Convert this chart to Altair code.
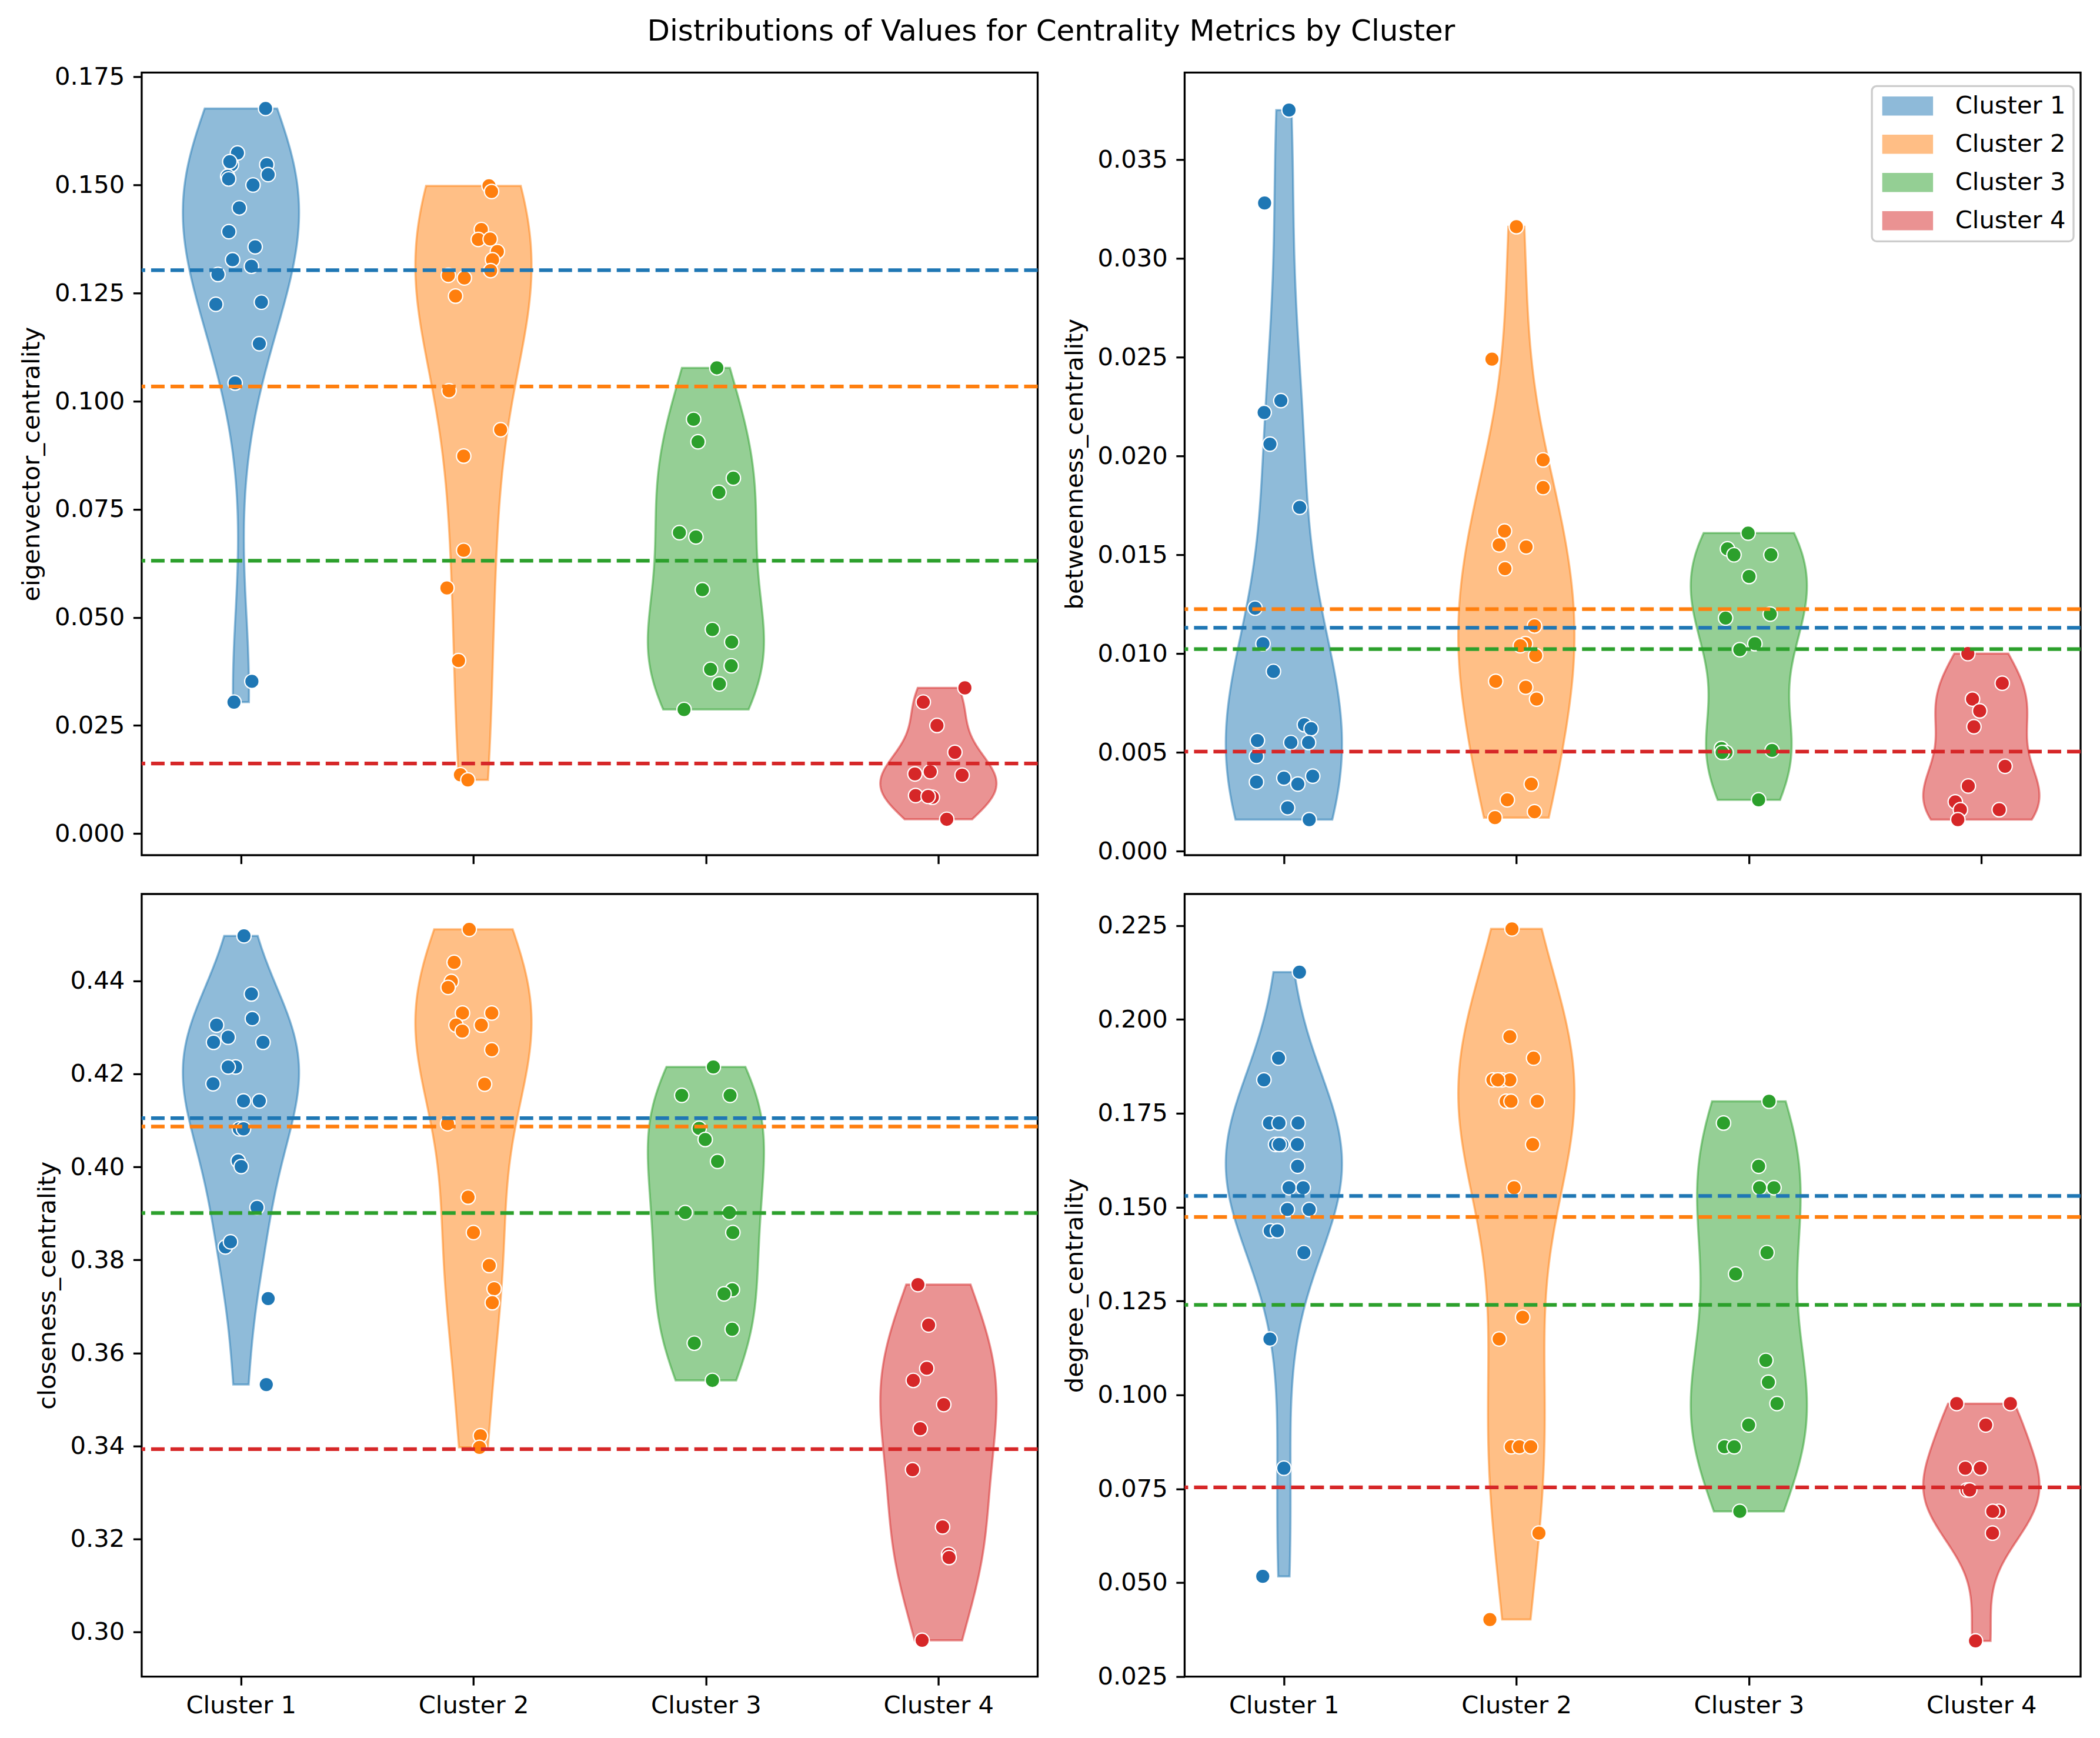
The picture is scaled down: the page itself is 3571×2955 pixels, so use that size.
import altair as alt
import pandas as pd
import numpy as np

CLUSTERS = ["Cluster 1", "Cluster 2", "Cluster 3", "Cluster 4"]
COLORS = ["#1f77b4", "#ff7f0e", "#2ca02c", "#d62728"]
METRICS = ["eigenvector_centrality", "betweenness_centrality",
           "closeness_centrality", "degree_centrality"]
TITLE = "Distributions of Values for Centrality Metrics by Cluster"

# ---------------- eigenvector_centrality ----------------
eig_c1 = [0.1677, 0.1574, 0.1547, 0.1554, 0.1547, 0.1524, 0.1520, 0.1514, 0.1500, 0.1447, 0.1392,
          0.1357, 0.1327, 0.1312, 0.1293, 0.1224, 0.1229, 0.1133, 0.1042, 0.0352, 0.0304]
eig_c1_jit = [0.106, -0.015, -0.041, -0.048, 0.111, 0.117, -0.057, -0.053, 0.052, -0.007, -0.052,
              0.061, -0.036, 0.045, -0.099, -0.108, 0.088, 0.079, -0.025, 0.047, -0.030]
eig_c2 = [0.1498, 0.1485, 0.1397, 0.1374, 0.1375, 0.1346, 0.1327, 0.1302, 0.1291, 0.1285,
          0.1243, 0.1024, 0.0934, 0.0873, 0.0655, 0.0568, 0.0400, 0.0136, 0.0124]
eig_c2_jit = [0.067, 0.078, 0.034, 0.021, 0.072, 0.103, 0.082, 0.074, -0.108, -0.039,
              -0.077, -0.105, 0.117, -0.042, -0.042, -0.114, -0.064, -0.056, -0.024]
eig_c3 = [0.1077, 0.0958, 0.0906, 0.0822, 0.0789, 0.0696, 0.0686, 0.0564, 0.0472, 0.0443,
          0.0380, 0.0388, 0.0346, 0.0287]
eig_c3_jit = [0.047, -0.053, -0.034, 0.118, 0.056, -0.114, -0.043, -0.015, 0.028, 0.111,
              0.020, 0.109, 0.058, -0.094]
eig_c4 = [0.0337, 0.0304, 0.0250, 0.0188, 0.0138, 0.0143, 0.0135, 0.0088, 0.0084, 0.0086, 0.0033]
eig_c4_jit = [0.114, -0.065, -0.006, 0.071, -0.101, -0.035, 0.102, -0.098, -0.026, -0.044, 0.036]
eig_means = [0.1303, 0.1034, 0.0631, 0.0162]
eig_ticks = [0.000, 0.025, 0.050, 0.075, 0.100, 0.125, 0.150, 0.175]
eig_domain = [-0.0050, 0.1760]

# ---------------- betweenness_centrality ----------------
btw_c1 = [0.0375, 0.0328, 0.0228, 0.0222, 0.0206, 0.0174, 0.0123, 0.0105, 0.0091, 0.0064, 0.0062,
          0.0056, 0.0055, 0.0055, 0.0048, 0.0035, 0.0037, 0.0034, 0.0038, 0.0022, 0.0016]
btw_c1_jit = [0.022, -0.083, -0.013, -0.085, -0.060, 0.068, -0.124, -0.090, -0.045, 0.088, 0.117,
              -0.114, 0.030, 0.106, -0.118, -0.118, 0.000, 0.060, 0.124, 0.016, 0.109]
btw_c2 = [0.0316, 0.0249, 0.0198, 0.0184, 0.0162, 0.0155, 0.0154, 0.0143, 0.0114, 0.0105,
          0.0104, 0.0099, 0.0086, 0.0083, 0.0077, 0.0034, 0.0026, 0.0017, 0.0020]
btw_c2_jit = [0.000, -0.105, 0.115, 0.115, -0.051, -0.074, 0.042, -0.049, 0.078, 0.039,
              0.017, 0.083, -0.089, 0.040, 0.087, 0.064, -0.039, -0.092, 0.078]
btw_c3 = [0.0161, 0.0153, 0.0150, 0.0150, 0.0139, 0.0118, 0.0120, 0.0105, 0.0102, 0.0052,
          0.0050, 0.0050, 0.0051, 0.0026]
btw_c3_jit = [-0.003, -0.092, -0.064, 0.095, 0.001, -0.100, 0.092, 0.026, -0.039, -0.118,
              -0.098, -0.115, 0.100, 0.042]
btw_c4 = [0.0100, 0.0085, 0.0077, 0.0071, 0.0063, 0.0043, 0.0033, 0.0025, 0.0021, 0.0021, 0.0016]
btw_c4_jit = [-0.058, 0.090, -0.038, -0.007, -0.032, 0.102, -0.056, -0.112, -0.090, 0.077, -0.101]
btw_means = [0.01131, 0.01225, 0.01023, 0.00504]
btw_ticks = [0.000, 0.005, 0.010, 0.015, 0.020, 0.025, 0.030, 0.035]
btw_domain = [-0.0002, 0.0394]

# ---------------- closeness_centrality ----------------
clo_c1 = [0.4497, 0.4372, 0.4319, 0.4305, 0.4279, 0.4268, 0.4268, 0.4215, 0.4215, 0.4179, 0.4142,
          0.4142, 0.4082, 0.4082, 0.4013, 0.4001, 0.3913, 0.3828, 0.3839, 0.3717, 0.3532]
clo_c1_jit = [0.013, 0.045, 0.049, -0.105, -0.055, -0.118, 0.095, -0.023, -0.055, -0.120, 0.011,
              0.079, -0.007, 0.011, -0.012, 0.001, 0.069, -0.067, -0.045, 0.117, 0.109]
clo_c2 = [0.4511, 0.4440, 0.4399, 0.4386, 0.4331, 0.4331, 0.4305, 0.4305, 0.4292, 0.4252,
          0.4178, 0.4093, 0.3935, 0.3859, 0.3788, 0.3738, 0.3708, 0.3422, 0.3397]
clo_c2_jit = [-0.018, -0.083, -0.095, -0.109, -0.047, 0.079, -0.075, 0.034, -0.048, 0.079,
              0.048, -0.111, -0.023, 0.000, 0.068, 0.089, 0.081, 0.030, 0.026]
clo_c3 = [0.4215, 0.4154, 0.4154, 0.4083, 0.4059, 0.4012, 0.3902, 0.3902, 0.3859, 0.3736,
          0.3727, 0.3651, 0.3621, 0.3541]
clo_c3_jit = [0.032, -0.104, 0.104, -0.029, -0.003, 0.050, -0.089, 0.101, 0.116, 0.114,
              0.078, 0.113, -0.050, 0.028]
clo_c4 = [0.3747, 0.3660, 0.3567, 0.3541, 0.3489, 0.3437, 0.3349, 0.3226, 0.3167, 0.3160, 0.2982]
clo_c4_jit = [-0.088, -0.042, -0.050, -0.108, 0.023, -0.078, -0.111, 0.018, 0.044, 0.046, -0.070]
clo_means = [0.4105, 0.4087, 0.3901, 0.3393]
clo_ticks = [0.30, 0.32, 0.34, 0.36, 0.38, 0.40, 0.42, 0.44]
clo_domain = [0.2904, 0.4587]

# ---------------- degree_centrality ----------------
deg_c1 = [0.2126, 0.1897, 0.1839, 0.1724, 0.1724, 0.1724, 0.1667, 0.1667, 0.1667, 0.1667, 0.1609,
          0.1552, 0.1552, 0.1494, 0.1494, 0.1437, 0.1437, 0.1379, 0.1149, 0.0805, 0.0517]
deg_c1_jit = [0.067, -0.023, -0.086, -0.062, -0.021, 0.061, -0.036, -0.009, 0.058, -0.020, 0.059,
              0.022, 0.083, 0.015, 0.109, -0.059, -0.028, 0.086, -0.060, 0.000, -0.091]
deg_c2 = [0.2241, 0.1954, 0.1897, 0.1839, 0.1839, 0.1839, 0.1839, 0.1782, 0.1782, 0.1782,
          0.1667, 0.1552, 0.1207, 0.1149, 0.0862, 0.0862, 0.0862, 0.0632, 0.0402]
deg_c2_jit = [-0.019, -0.028, 0.074, -0.101, -0.062, -0.028, -0.080, -0.044, -0.023, 0.090,
              0.070, -0.010, 0.027, -0.074, -0.022, 0.013, 0.062, 0.097, -0.114]
deg_c3 = [0.1782, 0.1724, 0.1609, 0.1552, 0.1552, 0.1379, 0.1322, 0.1092, 0.1034, 0.0977,
          0.0920, 0.0862, 0.0862, 0.0690]
deg_c3_jit = [0.087, -0.109, 0.042, 0.046, 0.108, 0.078, -0.057, 0.073, 0.084, 0.121,
              -0.001, -0.105, -0.063, -0.039]
deg_c4 = [0.0977, 0.0977, 0.0920, 0.0805, 0.0805, 0.0747, 0.0747, 0.0690, 0.0690, 0.0632, 0.0345]
deg_c4_jit = [-0.106, 0.125, 0.019, -0.069, -0.004, -0.062, -0.050, 0.075, 0.049, 0.048, -0.025]
deg_means = [0.1530, 0.1474, 0.1240, 0.0754]
deg_ticks = [0.025, 0.050, 0.075, 0.100, 0.125, 0.150, 0.175, 0.200, 0.225]
deg_domain = [0.0250, 0.2334]

PANELS = {
    "eigenvector_centrality": ([(eig_c1, eig_c1_jit), (eig_c2, eig_c2_jit), (eig_c3, eig_c3_jit),
                                (eig_c4, eig_c4_jit)], eig_means, eig_ticks, eig_domain, ".3f"),
    "betweenness_centrality": ([(btw_c1, btw_c1_jit), (btw_c2, btw_c2_jit), (btw_c3, btw_c3_jit),
                                (btw_c4, btw_c4_jit)], btw_means, btw_ticks, btw_domain, ".3f"),
    "closeness_centrality": ([(clo_c1, clo_c1_jit), (clo_c2, clo_c2_jit), (clo_c3, clo_c3_jit),
                              (clo_c4, clo_c4_jit)], clo_means, clo_ticks, clo_domain, ".2f"),
    "degree_centrality": ([(deg_c1, deg_c1_jit), (deg_c2, deg_c2_jit), (deg_c3, deg_c3_jit),
                           (deg_c4, deg_c4_jit)], deg_means, deg_ticks, deg_domain, ".3f"),
}

FONT = "DejaVu Sans"
FS = 41.7
W, H = 1524, 1331
HALF = 0.25
XDOMAIN = [-0.427, 3.427]

cscale = alt.Scale(domain=CLUSTERS, range=COLORS)
xscale = alt.Scale(domain=XDOMAIN, nice=False, zero=False)


def make_panel(metric, show_xlabels, legend):
    groups, means, ticks, ydom, fmt = PANELS[metric]
    yscale = alt.Scale(domain=ydom, nice=False, zero=False)
    yaxis = alt.Axis(values=ticks, format=fmt, title=metric, grid=False, domain=False,
                     labelFlush=False, labelOverlap=False, labelLimit=400)
    if show_xlabels:
        xaxis = alt.Axis(values=[0, 1, 2, 3], labelExpr="'Cluster ' + (datum.value + 1)",
                         title=None, grid=False, domain=False, labelFlush=False, labelAngle=0,
                         labelLimit=400, labelOverlap=False)
    else:
        xaxis = alt.Axis(values=[0, 1, 2, 3], labels=False, title=None, grid=False,
                         domain=False)

    rows = []
    for ci, (vals, jits) in enumerate(groups):
        for v, j in zip(vals, jits):
            rows.append({"cluster": ci, "label": CLUSTERS[ci], "value": v, "jitter": j})
    df = pd.DataFrame(rows)
    mdf = pd.DataFrame({"cluster": list(range(4)), "label": CLUSTERS, "mean": means})

    layers = []
    for ci, (vals, jits) in enumerate(groups):
        sub = df[df.cluster == ci]
        bw = float(np.std(np.array(vals), ddof=1) * len(vals) ** (-0.2))
        area = (
            alt.Chart(sub)
            .transform_density("value", as_=["value", "density"], bandwidth=bw, steps=200,
                               groupby=["label", "cluster"])
            .transform_joinaggregate(dmax="max(density)")
            .transform_calculate(xl=f"datum.cluster - datum.density / datum.dmax * {HALF}",
                                 xr=f"datum.cluster + datum.density / datum.dmax * {HALF}")
            .mark_area(orient="horizontal", fillOpacity=0.5, stroke=COLORS[ci],
                       strokeOpacity=0.5, strokeWidth=3.5)
            .encode(
                y=alt.Y("value:Q", scale=yscale, axis=yaxis),
                x=alt.X("xl:Q", scale=xscale, axis=xaxis),
                x2="xr:Q",
                color=alt.Color("label:N", scale=cscale, legend=legend),
            )
        )
        layers.append(area)

    pts = (
        alt.Chart(df)
        .transform_calculate(xp="datum.cluster + datum.jitter")
        .mark_point(filled=True, shape="circle", size=600, opacity=1, stroke="white",
                    strokeWidth=2.2)
        .encode(
            x=alt.X("xp:Q", scale=xscale, axis=xaxis),
            y=alt.Y("value:Q", scale=yscale, axis=yaxis),
            color=alt.Color("label:N", scale=cscale, legend=None),
        )
    )
    rules = (
        alt.Chart(mdf)
        .mark_rule(strokeDash=[23, 10], strokeWidth=6.25)
        .encode(
            y=alt.Y("mean:Q", scale=yscale, axis=yaxis),
            color=alt.Color("label:N", scale=cscale, legend=None),
        )
    )
    layers += [pts, rules]
    return alt.layer(*layers).properties(width=W, height=H)


legend_tr = alt.Legend(
    title=None, orient="none", legendX=1169, legendY=23, direction="vertical",
    symbolType="M-1,-1H4.72V1H-1Z", symbolSize=841, symbolOpacity=0.5, symbolStrokeWidth=3.5,
    labelFont=FONT, labelFontSize=FS, labelColor="black", labelOffset=87, labelLimit=500,
    rowPadding=21, padding=13, strokeColor="#cccccc", fillColor="rgba(255,255,255,0.8)",
    cornerRadius=8,
)

tl = make_panel("eigenvector_centrality", False, None)
tr = make_panel("betweenness_centrality", False, legend_tr)
bl = make_panel("closeness_centrality", True, None)
br = make_panel("degree_centrality", True, None)

chart = (
    alt.concat(tl, tr, bl, br, columns=2, spacing={"row": 66, "column": 250}, bounds="flush")
    .resolve_legend(color="independent")
    .properties(
        title=alt.TitleParams(TITLE, fontSize=50, font=FONT, fontWeight="normal", anchor="middle",
                              color="black", offset=30),
        padding={"left": 24, "top": 20, "right": 20, "bottom": 20},
    )
    .configure(font=FONT)
    .configure_view(stroke="black", strokeWidth=3.33)
    .configure_legend(strokeWidth=3.3)
    .configure_axis(
        labelFont=FONT, labelFontSize=FS, labelColor="black",
        titleFont=FONT, titleFontSize=FS, titleFontWeight="normal", titleColor="black",
        tickColor="black", tickWidth=3.33, tickSize=14.6, labelPadding=14.6, titlePadding=16.7,
    )
)

chart.save("out.html", embed_options={"renderer": "svg", "actions": False})
